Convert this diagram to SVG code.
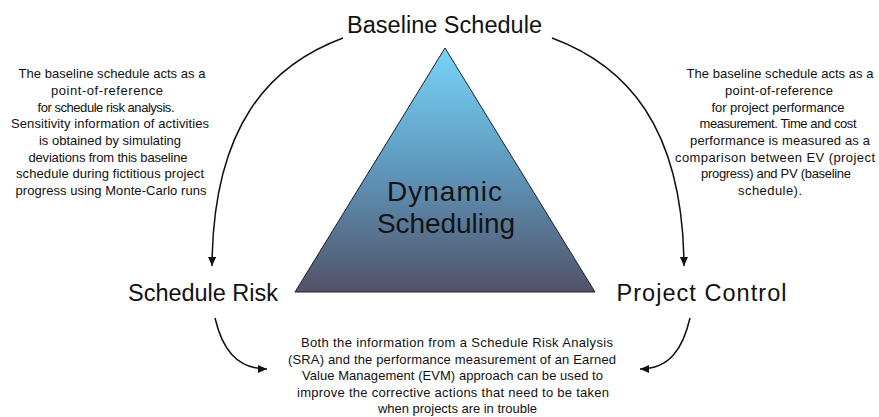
<svg xmlns="http://www.w3.org/2000/svg" width="879" height="417" viewBox="0 0 879 417">
<style>
.lbl{font-family:"Liberation Sans",Arial,sans-serif;font-size:23.5px;fill:#111;text-anchor:middle}
.core{font-family:"Liberation Sans",Arial,sans-serif;font-size:28px;fill:#141414;text-anchor:middle}
.note{font-family:"Liberation Sans",Arial,sans-serif;font-size:13px;fill:#111;text-anchor:middle}
.conn{fill:none;stroke:#111;stroke-width:1.5;marker-end:url(#ah)}
</style>
<defs>
<linearGradient id="tri" x1="0" y1="0" x2="0" y2="1">
<stop offset="0" stop-color="#77d4f9"/>
<stop offset="0.5" stop-color="#5f97bc"/>
<stop offset="1" stop-color="#525268"/>
</linearGradient>
<marker id="ah" markerUnits="userSpaceOnUse" markerWidth="10" markerHeight="9" refX="9" refY="4" orient="auto">
<path d="M0,0 L9,4 L0,8 z" fill="#111"/>
</marker>
</defs>
<rect width="879" height="417" fill="#fff"/>
<g id="connectors">
<path class="conn" d="M343,38 C270,65 213,125 212,266"/>
<path class="conn" d="M552,38 C625,65 683,125 684,266"/>
<path class="conn" d="M215,318 C222,348 236,369 267,369"/>
<path class="conn" d="M690,318 C683,348 670,369 640,369"/>
</g>
<g id="dynamic-scheduling">
<polygon points="445,48 595,292 295,292" fill="url(#tri)" stroke="#1e1e28" stroke-width="1"/>
<text class="core" x="444.5" y="201" textLength="115">Dynamic</text>
<text class="core" x="446" y="233" textLength="138">Scheduling</text>
</g>
<g id="baseline-schedule">
<text class="lbl" x="444.5" y="33" textLength="195">Baseline Schedule</text>
</g>
<g id="schedule-risk">
<text class="lbl" x="203" y="301" textLength="150">Schedule Risk</text>
</g>
<g id="project-control">
<text class="lbl" x="701.5" y="301" textLength="170">Project Control</text>
</g>
<g id="note-left">
<text class="note" x="112" y="78" textLength="187">The baseline schedule acts as a</text>
<text class="note" x="107" y="95" textLength="112">point-of-reference</text>
<text class="note" x="106" y="111.7" textLength="137">for schedule risk analysis.</text>
<text class="note" x="110" y="128.3" textLength="198">Sensitivity information of activities</text>
<text class="note" x="110" y="145" textLength="142">is obtained by simulating</text>
<text class="note" x="108" y="161.7" textLength="159">deviations from this baseline</text>
<text class="note" x="110" y="178.3" textLength="188">schedule during fictitious project</text>
<text class="note" x="111" y="195" textLength="191">progress using Monte-Carlo runs</text>
</g>
<g id="note-right">
<text class="note" x="780" y="78" textLength="187">The baseline schedule acts as a</text>
<text class="note" x="779" y="95" textLength="108">point-of-reference</text>
<text class="note" x="778" y="111.7" textLength="133">for project performance</text>
<text class="note" x="778" y="128.3" textLength="157">measurement. Time and cost</text>
<text class="note" x="780" y="145" textLength="180">performance is measured as a</text>
<text class="note" x="775" y="161.7" textLength="200">comparison between EV (project</text>
<text class="note" x="776" y="178.3" textLength="150">progress) and PV (baseline</text>
<text class="note" x="770" y="195" textLength="64">schedule).</text>
</g>
<g id="note-bottom">
<text class="note" x="457" y="346.5" textLength="312">Both the information from a Schedule Risk Analysis</text>
<text class="note" x="452" y="363.5" textLength="328">(SRA) and the performance measurement of an Earned</text>
<text class="note" x="452.5" y="380" textLength="301">Value Management (EVM) approach can be used to</text>
<text class="note" x="453" y="397" textLength="312">improve the corrective actions that need to be taken</text>
<text class="note" x="457.5" y="413" textLength="159">when projects are in trouble</text>
</g>
</svg>
